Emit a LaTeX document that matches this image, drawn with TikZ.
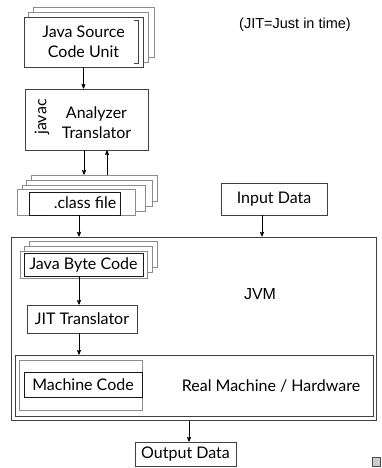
\documentclass[tikz,border=0pt]{standalone}
\usepackage{fontspec}
\setmainfont{Lato}
\newfontfamily\arialfont{Liberation Sans}
\usepackage{tikz}
\usetikzlibrary{arrows}

\begin{document}
\begin{tikzpicture}[->,>=stealth',x=1pt,y=-1pt,
  box node/.style={rectangle,draw=black!75,fill=white,line width=0.8pt,inner sep=0pt,font=\fontsize{16}{20}\selectfont},
  back node/.style={rectangle,draw=black!45,fill=white,line width=0.7pt,inner sep=0pt},
  dark node/.style={rectangle,draw=black!90,fill=white,line width=0.9pt,inner sep=0pt,font=\fontsize{16}{20}\selectfont},
  text node/.style={inner sep=0pt,font=\fontsize{16}{20}\selectfont},
  note node/.style={inner sep=0pt,font=\arialfont\fontsize{14.5}{17}\selectfont}]
  \useasboundingbox (0,0) rectangle (381,468);

  % source units
  \node[back node,minimum width=121,minimum height=50] (1b) at (93.5,32) {};
  \node[back node,minimum width=120,minimum height=50] (1a) at (88,37) {};
  \node[box node,minimum width=119,minimum height=50,align=center] (1) at (83.5,42) {Java Source\\Code Unit};
  \draw[-,black!75,line width=0.8pt] (134,20) -- (138,20) -- (138,63) -- (134,63);

  % javac
  \node[box node,minimum width=123,minimum height=61] (2) at (86.5,119.5) {};
  \node[text node,align=center] (2t) at (96.5,123) {Analyzer\\Translator};
  \node[text node,rotate=90] (2j) at (42,117) {javac};

  % class files
  \node[back node,minimum width=126,minimum height=26] (3c) at (94,188) {};
  \node[back node,minimum width=126,minimum height=26] (3b) at (89,193) {};
  \node[back node,minimum width=123,minimum height=26] (3a) at (83.5,198) {};
  \node[back node,minimum width=118,minimum height=26] (3) at (76,202) {};
  \node[dark node,minimum width=91,minimum height=23] (3d) at (74.5,203.5) {};
  \node[text node] (3t) at (85,203) {.class file};

  \node[box node,minimum width=106,minimum height=32] (4) at (274,199) {Input Data};
  \node[note node] (5) at (295,25) {(JIT=Just in time)};

  % JVM
  \node[box node,minimum width=365,minimum height=183,line width=1pt] (6) at (193.5,328.5) {};
  \node[note node,font=\arialfont\fontsize{16}{18}\selectfont] (6t) at (260,294) {JVM};

  \node[back node,minimum width=128,minimum height=26] (7b) at (93,254) {};
  \node[back node,minimum width=128,minimum height=26] (7a) at (88,259) {};
  \node[back node,minimum width=127,minimum height=27] (7f) at (83.5,264.5) {};
  \node[dark node,minimum width=119,minimum height=23] (7) at (83.5,264.5) {Java Byte Code};

  \node[box node,minimum width=110,minimum height=28] (8) at (82,319) {JIT Translator};

  % hardware
  \node[box node,minimum width=358,minimum height=61] (9) at (194,385.5) {};
  \node[back node,minimum width=123,minimum height=50] (9f) at (80.5,385) {};
  \node[dark node,minimum width=118,minimum height=25] (10) at (83,384.5) {Machine Code};
  \node[text node] (9t) at (271,386) {Real Machine / Hardware};

  \node[box node,minimum width=101,minimum height=24] (11) at (185.5,454) {Output Data};
  \node[-,draw=black!70,fill=black!20,minimum width=8,minimum height=9,inner sep=0pt] (12) at (376,461.5) {};

  \path[line width=0.7pt]
    (1.south) edge (1.south |- 2.north)
    ([xshift=-2.5]2.south) edge ([xshift=-2.5]2.south |- 3c.north)
    ([xshift=20.5]2.south |- 3c.north) edge ([xshift=20.5]2.south)
    ([xshift=3]3.south) edge ([xshift=3]3.south |- 6.north)
    ([xshift=-12]4.south) edge ([xshift=-12]4.south |- 6.north)
    ([xshift=-4.5]7.south) edge ([xshift=-4.5]7.south |- 8.north)
    ([xshift=-3]8.south) edge ([xshift=-3]8.south |- 9.north)
    ([xshift=-4.5]6.south) edge ([xshift=-4.5]6.south |- 11.north);
\end{tikzpicture}
\end{document}
